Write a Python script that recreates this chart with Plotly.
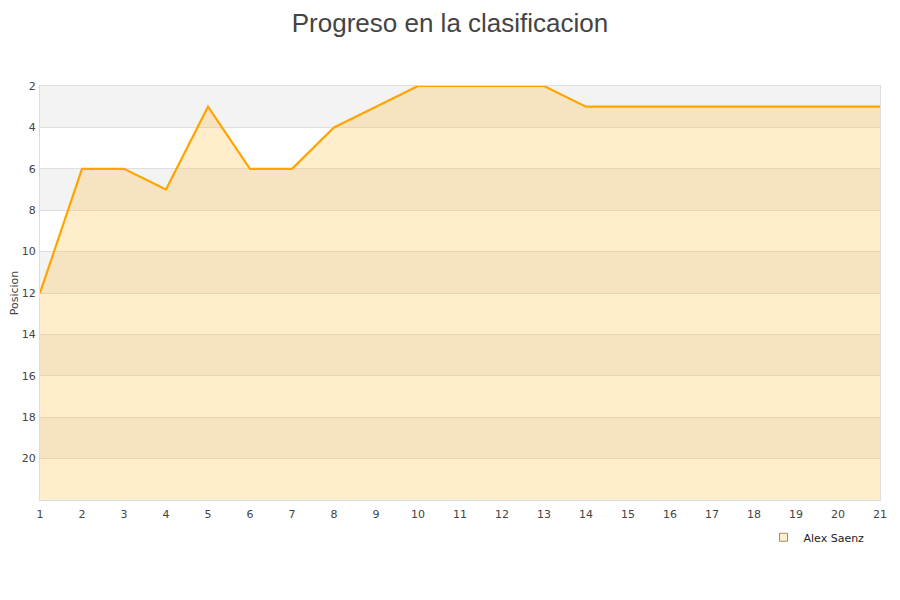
import plotly.graph_objects as go

jornadas = list(range(1, 22))
posiciones = [12, 6, 6, 7, 3, 6, 6, 4, 3, 2, 2, 2, 2, 3, 3, 3, 3, 3, 3, 3, 3]
y_ticks = [2, 4, 6, 8, 10, 12, 14, 16, 18, 20]
band_starts = [2, 6, 10, 14, 18]
player = "Alex Saenz"

fig = go.Figure()
fig.add_trace(go.Scatter(
    x=jornadas, y=[22] * len(jornadas), mode="lines",
    line=dict(width=0), showlegend=False, hoverinfo="skip"))
fig.add_trace(go.Scatter(
    x=jornadas, y=posiciones, mode="lines", fill="tonexty",
    fillcolor="rgba(255,165,0,0.2)", line=dict(color="#ffa500", width=2.2),
    showlegend=False, name=player))
fig.add_trace(go.Scatter(
    x=[None], y=[None], mode="markers", name=player,
    marker=dict(symbol="square", size=8, color="#fff0cc",
                line=dict(color="#9a8a6a", width=1))))

shapes = []
for s in band_starts:
    shapes.append(dict(type="rect", xref="paper", yref="y", x0=0, x1=1,
                       y0=s, y1=s + 2, fillcolor="#f3f3f3",
                       line=dict(width=0), layer="below"))

fig.update_layout(
    width=900, height=600,
    margin=dict(l=32, r=28, t=78, b=108, autoexpand=False),
    paper_bgcolor="white", plot_bgcolor="white",
    title=dict(text="Progreso en la clasificacion", x=(450 - 8) / 900, xanchor="center",
               y=1 - 15 / 600, yanchor="middle",
               font=dict(family="Liberation Sans, Arial", size=26, color="#444")),
    shapes=shapes,
    font=dict(family="DejaVu Sans", size=11, color="#444"),
    xaxis=dict(range=[1, 21], tickvals=jornadas, showgrid=False, zeroline=False,
               showline=True, linecolor="#ddd", mirror=True, ticks="",
               automargin=False, ticklabelstandoff=4,
               tickfont=dict(size=11, color="#444")),
    yaxis=dict(range=[22, 2], tickvals=y_ticks, showgrid=True, gridcolor="#e0e0e0",
               zeroline=False, showline=True, linecolor="#ddd", mirror=True,
               ticks="", automargin=False, ticklabelstandoff=1,
               title=dict(text="Posicion", standoff=16, font=dict(size=11)),
               tickfont=dict(size=11, color="#444")),
    legend=dict(x=0.9875, xanchor="right", y=-0.09, yanchor="middle",
                bgcolor="rgba(255,255,255,0)", font=dict(size=11, color="#222"),
                itemwidth=30),
    showlegend=True,
)

fig.write_html("out.html")
